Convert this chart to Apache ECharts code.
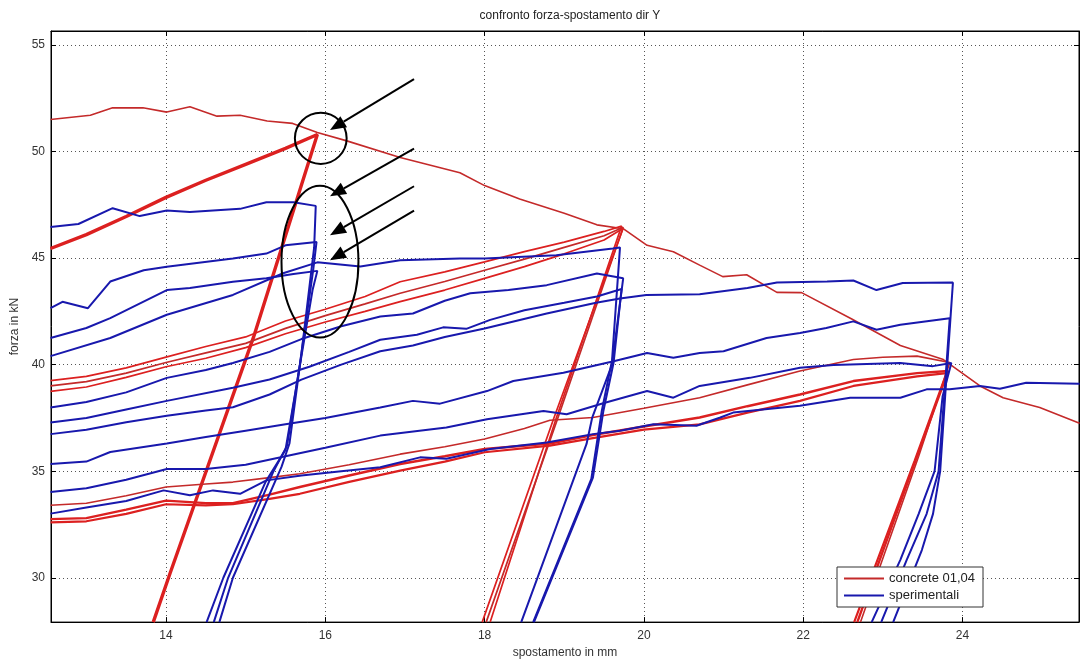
<!DOCTYPE html>
<html>
<head>
<meta charset="utf-8">
<script src="https://cdn.jsdelivr.net/npm/echarts@6/dist/echarts.min.js"></script>
<style>
html,body{margin:0;padding:0;background:#fff;}
#c{width:1080px;height:664px;}
</style>
</head>
<body>
<div id="c"></div>
<script>
// ---------- tick labels ----------
const xTicks = [14, 16, 18, 20, 22, 24];
const yTicks = [30, 35, 40, 45, 50, 55];

// ---------- concrete 01,04 (red) ----------
const redEnvelope = [[12.55,51.5],[13.05,51.7],[13.33,52.05],[13.71,52.05],[14.01,51.85],[14.3,52.1],[14.64,51.66],[14.93,51.7],[15.27,51.43],[15.59,51.32],[15.9,50.89],[16.27,50.5],[16.94,49.72],[17.69,49.0],[18.0,48.4],[18.44,47.77],[19.0,47.1],[19.41,46.56],[19.74,46.38],[20.04,45.6],[20.37,45.3],[20.7,44.67],[20.99,44.13],[21.29,44.22],[21.67,43.39],[21.98,43.38],[22.61,42.14],[23.22,40.9],[23.76,40.24],[24.22,39.0],[24.51,38.45],[24.97,37.99],[25.47,37.25]];
const redCycle1 = [[12.55,45.45],[13.0,46.1],[13.5,46.95],[14.0,47.85],[14.5,48.65],[15.0,49.4],[15.5,50.15],[15.9,50.8],[15.1,41.3],[14.05,30.2],[13.84,27.92]];
const redCycle2a = [[12.55,39.25],[13.0,39.45],[13.5,39.85],[14.0,40.35],[14.5,40.85],[15.0,41.3],[15.5,42.05],[16.0,42.6],[16.5,43.2],[16.94,43.89],[17.5,44.35],[18.0,44.82],[18.5,45.3],[19.0,45.75],[19.5,46.25],[19.72,46.5],[18.9,37.5],[18.07,27.92]];
const redCycle2b = [[12.55,39.0],[13.0,39.2],[13.5,39.6],[14.0,40.1],[14.5,40.55],[15.0,41.0],[15.5,41.7],[16.0,42.3],[16.5,42.85],[16.94,43.35],[17.5,43.9],[18.0,44.43],[18.5,44.95],[19.0,45.5],[19.5,46.05],[19.74,46.45],[18.92,37.5],[18.02,27.92]];
const redCycle2c = [[12.55,38.75],[13.0,38.95],[13.5,39.4],[14.0,39.9],[14.5,40.3],[15.0,40.8],[15.5,41.45],[16.0,42.0],[16.5,42.5],[16.94,42.96],[17.5,43.5],[18.0,44.05],[18.5,44.6],[19.0,45.2],[19.5,45.85],[19.74,46.4],[18.87,37.5],[17.97,27.92]];
const redCycle3a = [[12.55,33.4],[13.0,33.5],[13.5,33.85],[14.0,34.26],[14.5,34.4],[14.84,34.49],[15.3,34.7],[15.68,34.88],[16.3,35.3],[16.94,35.8],[17.5,36.15],[18.0,36.51],[18.5,37.0],[18.82,37.39],[19.36,37.52],[20.0,37.95],[20.7,38.45],[21.3,39.05],[21.96,39.7],[22.63,40.24],[23.0,40.35],[23.43,40.4],[23.84,40.1],[23.45,35.7],[22.72,27.92]];
const redCycle3b = [[12.55,32.75],[13.0,32.8],[13.5,33.2],[14.0,33.62],[14.5,33.5],[14.84,33.5],[15.3,33.9],[15.68,34.26],[16.3,34.8],[16.94,35.34],[17.5,35.7],[18.0,36.04],[18.82,36.3],[19.36,36.7],[20.0,37.1],[20.7,37.52],[21.3,38.05],[21.96,38.6],[22.63,39.23],[23.43,39.6],[23.82,39.7],[23.42,35.6],[22.68,27.92]];
const redCycle3c = [[12.55,32.6],[13.0,32.65],[13.5,33.0],[14.0,33.45],[14.5,33.4],[14.84,33.45],[15.3,33.7],[15.68,33.94],[16.3,34.5],[16.94,35.03],[17.5,35.45],[18.0,35.89],[18.82,36.2],[19.36,36.55],[20.0,36.95],[20.7,37.2],[21.3,37.75],[21.96,38.3],[22.63,39.0],[23.43,39.45],[23.8,39.6],[23.4,35.5],[22.64,27.92]];

// ---------- sperimentali (blue) ----------
const blue1 = [[12.55,46.46],[12.9,46.6],[13.33,47.34],[13.67,46.97],[14.01,47.23],[14.3,47.16],[14.93,47.31],[15.26,47.62],[15.6,47.62],[15.88,47.45],[15.86,45.5],[15.7,40.5],[15.55,36.3],[15.45,35.2],[14.84,30.0],[14.67,27.92]];
const blue2 = [[12.55,42.65],[12.7,42.95],[13.02,42.65],[13.3,43.9],[13.72,44.43],[14.01,44.59],[14.84,44.98],[15.26,45.21],[15.5,45.6],[15.89,45.76],[15.85,44.5],[15.68,40.0],[15.52,36.2],[15.35,35.0],[14.78,30.0],[14.6,27.92]];
const blue3 = [[12.55,41.25],[13.0,41.72],[13.3,42.18],[14.01,43.5],[14.3,43.6],[14.84,43.89],[15.26,44.05],[15.6,44.25],[15.9,44.4],[15.84,43.5],[15.66,39.5],[15.5,36.0],[15.25,34.5],[14.72,30.0],[14.51,27.92]];
const blue4 = [[12.55,40.4],[13.3,41.25],[14.01,42.34],[14.84,43.27],[15.47,44.29],[15.9,44.8],[16.44,44.6],[16.94,44.9],[17.69,44.98],[18.0,44.98],[18.9,45.13],[19.61,45.45],[19.7,45.5],[19.6,40.2],[19.47,37.8],[19.34,34.64],[18.61,27.92]];
const blue5 = [[12.55,37.99],[13.0,38.25],[13.5,38.7],[14.01,39.38],[14.5,39.75],[14.84,40.08],[15.3,40.6],[15.7,41.2],[16.2,41.8],[16.69,42.26],[17.1,42.4],[17.5,43.0],[17.82,43.35],[18.3,43.5],[18.78,43.73],[19.41,44.28],[19.74,44.05],[19.6,40.0],[19.35,37.5],[19.28,36.28],[18.46,27.92]];
const blue6 = [[12.55,37.29],[13.0,37.5],[13.5,37.9],[14.01,38.3],[14.84,38.92],[15.3,39.3],[15.8,39.9],[16.3,40.6],[16.69,41.17],[17.15,41.4],[17.48,41.75],[17.77,41.68],[18.07,42.1],[18.5,42.55],[19.0,42.9],[19.41,43.2],[19.72,43.55],[19.62,40.1],[19.49,37.8],[19.36,34.7],[18.62,27.92]];
const blue7 = [[12.55,36.74],[13.0,36.95],[13.5,37.3],[14.01,37.6],[14.5,37.85],[14.84,38.0],[15.3,38.6],[15.7,39.3],[16.2,40.0],[16.69,40.63],[17.1,40.9],[17.5,41.3],[18.0,41.7],[18.78,42.4],[19.4,42.9],[19.7,43.1],[20.03,43.27],[20.7,43.3],[21.3,43.6],[21.67,43.85],[22.3,43.9],[22.63,43.95],[22.92,43.5],[23.25,43.83],[23.88,43.85],[23.8,39.5],[23.72,35.0],[23.63,33.0],[23.49,31.3],[23.13,27.92]];
const blue8 = [[12.55,35.34],[13.0,35.45],[13.3,35.9],[14.01,36.3],[14.5,36.6],[15.0,36.9],[15.5,37.2],[16.0,37.5],[16.69,37.99],[17.1,38.3],[17.44,38.17],[18.03,38.76],[18.36,39.23],[18.99,39.62],[19.62,40.16],[20.04,40.55],[20.37,40.32],[20.7,40.55],[21.0,40.63],[21.54,41.25],[21.96,41.48],[22.29,41.72],[22.63,42.03],[22.92,41.64],[23.22,41.87],[23.84,42.18],[23.78,39.0],[23.7,35.0],[23.55,33.0],[23.3,30.84],[22.98,27.92]];
const blue9 = [[12.55,34.02],[13.0,34.2],[13.5,34.6],[14.01,35.1],[14.5,35.1],[15.0,35.3],[15.5,35.7],[16.0,36.1],[16.69,36.67],[17.52,37.05],[18.03,37.44],[18.74,37.83],[19.03,37.67],[19.5,38.2],[20.04,38.76],[20.37,38.45],[20.7,39.0],[21.33,39.38],[21.96,39.85],[22.38,39.98],[23.22,40.08],[23.63,39.93],[23.86,40.08],[23.75,38.5],[23.65,35.0],[23.45,33.0],[23.22,30.84],[22.86,27.92]];
const blue10 = [[12.55,33.01],[13.0,33.3],[13.5,33.6],[13.97,34.1],[14.3,33.87],[14.59,34.1],[14.93,33.94],[15.26,34.57],[15.7,34.8],[16.2,35.0],[16.69,35.19],[17.19,35.65],[17.52,35.58],[18.07,36.04],[18.78,36.35],[19.36,36.74],[19.7,36.9],[20.12,37.2],[20.66,37.13],[20.96,37.52],[21.12,37.75],[21.96,38.07],[22.59,38.45],[23.22,38.45],[23.55,38.84],[23.84,38.84],[24.22,39.0],[24.47,38.87],[24.8,39.15],[25.47,39.1]];

// ---------- annotations (data coordinates) ----------
const arrows = [[17.114,53.40,16.059,51.01],[17.114,50.14,16.059,47.90],[17.114,48.37,16.059,46.07],[17.114,47.23,16.059,44.90]];
const ellipses = [[15.943,50.62,0.325,1.2],[15.933,44.83,0.483,3.56]];

const RED = '#dc2020', RED_DARK = '#c42a2a', BLUE = '#1818ad';
const FONT = '"Liberation Sans", Arial, sans-serif';

function line(name, data, color, width) {
  return {type:'line', name:name, data:data, color:color, showSymbol:false, symbol:'none',
    lineStyle:{color:color, width:width}, itemStyle:{color:color}, smooth:false, animation:false, z:2};
}
const redName = 'concrete 01,04', blueName = 'sperimentali';
const series = [
  line(redName, redEnvelope, RED_DARK, 1.6),
  line(redName, redCycle1, RED, 3.4),
  line(redName, redCycle2a, RED, 1.7),
  line(redName, redCycle2b, RED_DARK, 1.7),
  line(redName, redCycle2c, RED, 1.7),
  line(redName, redCycle3a, RED_DARK, 1.6),
  line(redName, redCycle3b, RED, 2.4),
  line(redName, redCycle3c, RED, 2.2),
  line(blueName, blue1, BLUE, 2),
  line(blueName, blue2, BLUE, 2),
  line(blueName, blue3, BLUE, 2),
  line(blueName, blue4, BLUE, 2),
  line(blueName, blue5, BLUE, 2),
  line(blueName, blue6, BLUE, 2),
  line(blueName, blue7, BLUE, 2),
  line(blueName, blue8, BLUE, 2),
  line(blueName, blue9, BLUE, 2),
  line(blueName, blue10, BLUE, 2),
  {type:'custom', name:'ann-arrows', data:arrows, clip:false, z:5, silent:true, animation:false,
   encode:{x:[0,2], y:[1,3]},
   renderItem:function(params, api){
     const a = api.coord([api.value(0), api.value(1)]);
     const b = api.coord([api.value(2), api.value(3)]);
     const dx=b[0]-a[0], dy=b[1]-a[1], L=Math.hypot(dx,dy), ux=dx/L, uy=dy/L;
     const hl=16, hw=6.5;
     const bx=b[0]-ux*hl, by=b[1]-uy*hl;
     return {type:'group', children:[
       {type:'line', shape:{x1:a[0],y1:a[1],x2:bx,y2:by}, style:{stroke:'#000', lineWidth:2}},
       {type:'polygon', shape:{points:[[b[0],b[1]],[bx-uy*hw,by+ux*hw],[bx+uy*hw,by-ux*hw]]}, style:{fill:'#000'}}
     ]};
   }},
  {type:'custom', name:'ann-ellipses', data:ellipses, clip:false, z:5, silent:true, animation:false,
   encode:{x:0, y:1},
   renderItem:function(params, api){
     const c = api.coord([api.value(0), api.value(1)]);
     const s = api.size([api.value(2), api.value(3)]);
     return {type:'ellipse', shape:{cx:c[0], cy:c[1], rx:s[0], ry:s[1]}, style:{fill:'none', stroke:'#000', lineWidth:2}};
   }}
];

const XMIN = 12.556, XMAX = 25.463, YMIN = 27.92, YMAX = 55.655;
const gridLine = {show:true, lineStyle:{type:[1,3], color:'#555', width:1}};
const chart = echarts.init(document.getElementById('c'), null, {renderer:'canvas'});
chart.setOption({
  animation:false,
  backgroundColor:'#fff',
  title:{text:'confronto forza-spostamento dir Y', left:565, top:5, textAlign:'center',
    textStyle:{fontFamily:FONT, fontSize:12, fontWeight:'normal', color:'#222'}},
  legend:{data:[redName, blueName], orient:'vertical', left:837, top:567, icon:'rect',
    itemWidth:40, itemHeight:2, itemGap:4, padding:[5,8,5,7],
    backgroundColor:'#fff', borderColor:'#333', borderWidth:1, borderRadius:0,
    textStyle:{fontFamily:FONT, fontSize:13, color:'#222'}},
  grid:{left:51, right:1, top:31, bottom:38, show:true, borderColor:'#000', borderWidth:1, backgroundColor:'#fff', containLabel:false},
  xAxis:[
    {type:'value', min:XMIN, max:XMAX, position:'bottom',
     axisLine:{show:true, onZero:false, lineStyle:{color:'#000'}},
     axisTick:{show:true, inside:true, length:5, customValues:xTicks, lineStyle:{color:'#000'}},
     axisLabel:{customValues:xTicks, color:'#333', fontSize:12, fontFamily:FONT, margin:8},
     splitLine:gridLine,
     name:'spostamento in mm', nameLocation:'middle', nameGap:23,
     nameTextStyle:{fontFamily:FONT, fontSize:12, color:'#333'}},
    {type:'value', min:XMIN, max:XMAX, position:'top',
     axisLine:{show:true, onZero:false, lineStyle:{color:'#000'}},
     axisTick:{show:true, inside:true, length:5, customValues:xTicks, lineStyle:{color:'#000'}},
     axisLabel:{show:false}, splitLine:{show:false}}
  ],
  yAxis:[
    {type:'value', min:YMIN, max:YMAX, position:'left',
     axisLine:{show:true, onZero:false, lineStyle:{color:'#000'}},
     axisTick:{show:true, inside:true, length:5, customValues:yTicks, lineStyle:{color:'#000'}},
     axisLabel:{customValues:yTicks, color:'#333', fontSize:12, fontFamily:FONT, margin:6},
     splitLine:gridLine,
     name:'forza in kN', nameLocation:'middle', nameGap:29, nameRotate:90,
     nameTextStyle:{fontFamily:FONT, fontSize:12, color:'#333'}},
    {type:'value', min:YMIN, max:YMAX, position:'right',
     axisLine:{show:true, onZero:false, lineStyle:{color:'#000'}},
     axisTick:{show:true, inside:true, length:5, customValues:yTicks, lineStyle:{color:'#000'}},
     axisLabel:{show:false}, splitLine:{show:false}}
  ],
  series:series
});
</script>
</body>
</html>
